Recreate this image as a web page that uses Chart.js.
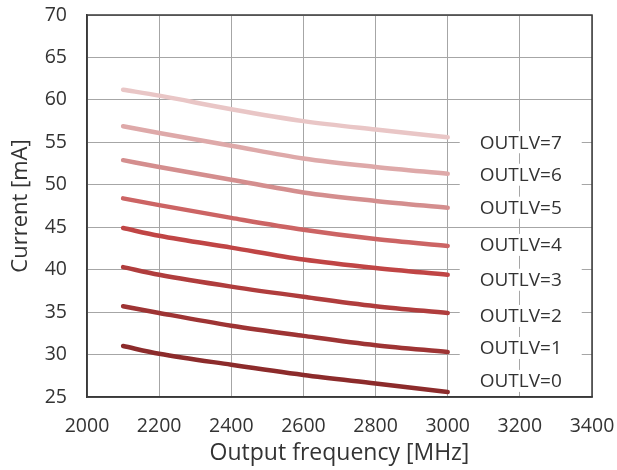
<!DOCTYPE html>
<html>
<head>
<meta charset="utf-8">
<title>Current vs output frequency</title>
<script src="https://cdn.jsdelivr.net/npm/chart.js@4.4.1/dist/chart.umd.min.js"></script>
<style>
    html, body { margin: 0; padding: 0; background: #fff; }
    #wrap { width: 617px; height: 470px; }
</style>
</head>
<body>
<div id="wrap"><canvas id="lineChart" width="617" height="470"></canvas></div>
<script>
// frequency points (MHz)
var freqs = [2100, 2200, 2400, 2600, 2800, 3000];

// current in mA, one array per OUTLV setting
var outlv0 = [31.0, 30.1, 28.8, 27.6, 26.6, 25.6];
var outlv1 = [35.7, 34.9, 33.4, 32.2, 31.1, 30.3];
var outlv2 = [40.3, 39.4, 38.0, 36.8, 35.7, 34.9];
var outlv3 = [44.9, 44.0, 42.6, 41.2, 40.2, 39.4];
var outlv4 = [48.4, 47.6, 46.1, 44.7, 43.6, 42.8];
var outlv5 = [52.9, 52.1, 50.6, 49.1, 48.1, 47.3];
var outlv6 = [56.9, 56.1, 54.6, 53.1, 52.1, 51.3];
var outlv7 = [61.2, 60.5, 58.9, 57.5, 56.5, 55.6];

var seriesNames = ["OUTLV=0", "OUTLV=1", "OUTLV=2", "OUTLV=3", "OUTLV=4", "OUTLV=5", "OUTLV=6", "OUTLV=7"];
var seriesValues = [outlv0, outlv1, outlv2, outlv3, outlv4, outlv5, outlv6, outlv7];

var xTicks = [2000, 2200, 2400, 2600, 2800, 3000, 3200, 3400];
var yTicks = [25, 30, 35, 40, 45, 50, 55, 60, 65, 70];

var colors = ["#8c2b2b", "#9e3434", "#b03d3d", "#c04545", "#cc6464", "#d48e8e", "#dea9a9", "#e9c6c6"];
// vertical nudge of each end label (px), like the hand-placed labels of the original
var labelShift = [-11, -4, 3, 5, -1, 0, 1, 5];

var FONT = "'Open Sans', 'DejaVu Sans', sans-serif";
var TEXT = "#333333";

function makeDatasets() {
    var sets = [];
    for (var i = 0; i < seriesValues.length; i++) {
        var pts = [];
        for (var j = 0; j < freqs.length; j++) {
            pts.push({ x: freqs[j], y: seriesValues[i][j] });
        }
        sets.push({
            label: seriesNames[i],
            data: pts,
            borderColor: colors[i],
            backgroundColor: colors[i],
            borderWidth: 4.5,
            borderCapStyle: 'round',
            cubicInterpolationMode: 'monotone',
            pointRadius: 0,
            fill: false
        });
    }
    return sets;
}

// frame round the plot area and the end labels on white boxes
var endLabels = {
    id: 'endLabels',
    afterDatasetsDraw: function (chart) {
        var ctx = chart.ctx;
        var area = chart.chartArea;
        ctx.save();
        ctx.font = "19px " + FONT;
        ctx.textBaseline = 'middle';
        ctx.textAlign = 'center';
        chart.data.datasets.forEach(function (ds, i) {
            var meta = chart.getDatasetMeta(i);
            var last = meta.data[meta.data.length - 1];
            var y = last.y + labelShift[i];
            var left = last.x + 12;
            var w = 122;
            var h = 22;
            ctx.fillStyle = '#ffffff';
            ctx.fillRect(left, y - h / 2, w, h);
            ctx.fillStyle = TEXT;
            ctx.fillText(ds.label, left + w / 2, y + 1);
        });
        ctx.strokeStyle = '#3a3a3a';
        ctx.lineWidth = 1.5;
        ctx.strokeRect(area.left, area.top, area.right - area.left, area.bottom - area.top);
        ctx.restore();
    }
};

function noOverhang(scale) {
    scale.paddingTop = 0;
    scale.paddingBottom = 0;
    scale.paddingLeft = 0;
    scale.paddingRight = 0;
}

var ctx = document.getElementById('lineChart').getContext('2d');
var lineChart = new Chart(ctx, {
    type: 'line',
    data: { datasets: makeDatasets() },
    plugins: [endLabels],
    options: {
        responsive: false,
        animation: false,
        layout: { padding: { left: 0, top: 15, right: 25, bottom: 0 } },
        plugins: {
            legend: { display: false },
            tooltip: { enabled: false }
        },
        scales: {
            x: {
                type: 'linear',
                min: xTicks[0],
                max: xTicks[xTicks.length - 1],
                afterBuildTicks: function (scale) {
                    scale.ticks = xTicks.map(function (v) { return { value: v }; });
                },
                afterFit: function (scale) { scale.height = 73; noOverhang(scale); },
                grid: { color: '#a6a6a6', lineWidth: 1, drawTicks: false, tickLength: 0 },
                border: { color: '#3a3a3a', width: 1.5 },
                ticks: {
                    padding: 18,
                    color: TEXT,
                    font: { family: FONT, size: 19.5 },
                    callback: function (v) { return String(v); }
                },
                title: {
                    display: true,
                    text: 'Output frequency [MHz]',
                    color: TEXT,
                    font: { family: FONT, size: 23 },
                    padding: { top: 0, bottom: 3 }
                }
            },
            y: {
                min: yTicks[0],
                max: yTicks[yTicks.length - 1],
                afterBuildTicks: function (scale) {
                    scale.ticks = yTicks.map(function (v) { return { value: v }; });
                },
                afterFit: function (scale) { scale.width = 87; noOverhang(scale); },
                grid: { color: '#a6a6a6', lineWidth: 1, drawTicks: false, tickLength: 0 },
                border: { color: '#3a3a3a', width: 1.5 },
                ticks: {
                    padding: 20,
                    color: TEXT,
                    font: { family: FONT, size: 19.5 },
                    callback: function (v) { return String(v); }
                },
                title: {
                    display: true,
                    text: 'Current [mA]',
                    color: TEXT,
                    font: { family: FONT, size: 22 },
                    padding: { top: 8, bottom: 0 }
                }
            }
        }
    }
});
</script>
</body>
</html>
